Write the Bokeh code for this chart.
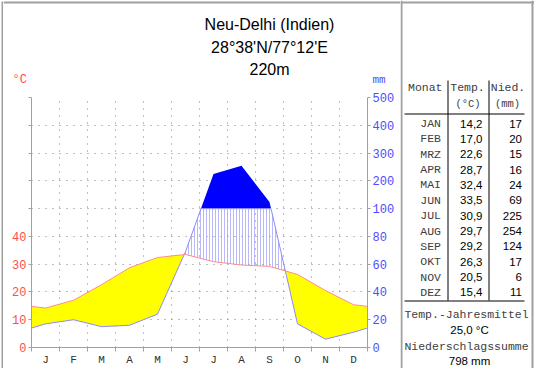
import numpy as np
from bokeh.plotting import figure
from bokeh.models import Range1d, LinearAxis, FixedTicker, Grid
from bokeh.layouts import row, column
from bokeh.embed import file_html
from bokeh.resources import INLINE
from bokeh.core.properties import value

# ---------------- data ----------------
station = "Neu-Delhi (Indien)"
coords = "28°38'N/77°12'E"
elevation = "220m"
month_letters = ["J", "F", "M", "A", "M", "J", "J", "A", "S", "O", "N", "D"]
month_abbr = ["JAN", "FEB", "MRZ", "APR", "MAI", "JUN", "JUL", "AUG", "SEP", "OKT", "NOV", "DEZ"]
temp = [14.2, 17.0, 22.6, 28.7, 32.4, 33.5, 30.9, 29.7, 29.2, 26.3, 20.5, 15.4]
precip = [17, 20, 15, 16, 24, 69, 225, 254, 124, 17, 6, 11]
temp_tick_labels = ["0", "10", "20", "30", "40"]
precip_tick_labels = ["0", "20", "40", "60", "80", "100", "200", "300", "400", "500"]

MONO_S = "Liberation Mono"
SANS_S = "Liberation Sans"
MONO = value(MONO_S)
SANS = value(SANS_S)
RED = "#ff4d4d"
BLUE = "#4d4dff"
GREY = "#a0a0a0"
TXT_GREY = "#404040"

W, H = 534, 368
STRIP_W = 3           # left border strip
LEFT_W = 400          # chart column right edge (page px)
PANEL_W = LEFT_W - STRIP_W
TITLE_H = 90          # height of the title strip
FRAME_L, FRAME_R = 31, 367   # page px
FRAME_T, FRAME_B = 97, 349


def p_to_u(v):
    # 0-100 mm linear, above 100 mm compressed by factor 5
    return v if v <= 100 else 100 + (v - 100) / 5.0


def t_to_u(t):
    return 2.0 * t


# month-centre positions, wrapped at both edges
xs = [0.0] + [i + 0.5 for i in range(12)] + [12.0]
edge_t = t_to_u((temp[-1] + temp[0]) / 2)
edge_p = p_to_u((precip[-1] + precip[0]) / 2)
Tu = [edge_t] + [t_to_u(t) for t in temp] + [edge_t]
Pu = [edge_p] + [p_to_u(v) for v in precip] + [edge_p]


def add_crossings(x, ys, f):
    nx = [x[0]]
    nys = [[y[0]] for y in ys]
    for i in range(len(x) - 1):
        d0 = f([y[i] for y in ys])
        d1 = f([y[i + 1] for y in ys])
        if d0 * d1 < 0:
            t = d0 / (d0 - d1)
            nx.append(x[i] + t * (x[i + 1] - x[i]))
            for k, y in enumerate(ys):
                nys[k].append(y[i] + t * (y[i + 1] - y[i]))
        nx.append(x[i + 1])
        for k, y in enumerate(ys):
            nys[k].append(y[i + 1])
    return nx, nys


x1, (T1, P1) = add_crossings(xs, [Tu, Pu], lambda v: v[1] - v[0])
x2, (T2, P2) = add_crossings(x1, [T1, P1], lambda v: v[1] - 100)
x2 = np.array(x2); T2 = np.array(T2); P2 = np.array(P2)


def blank_fig(w, h):
    f = figure(width=w, height=h, x_range=Range1d(0, w), y_range=Range1d(h, 0),
               output_backend="svg", toolbar_location=None, x_axis_location=None,
               y_axis_location=None, min_border=0, frame_align=False)
    f.grid.grid_line_color = None
    f.outline_line_color = None
    return f


# ---------------- left border strip ----------------
ls = blank_fig(STRIP_W, H)
ls.segment(x0=[2], y0=[1], x1=[2], y1=[H], line_color=GREY, line_width=2)

# ---------------- title strip ----------------
tf = blank_fig(PANEL_W, TITLE_H)
tf.segment(x0=[0], y0=[2], x1=[PANEL_W], y1=[2], line_color=GREY, line_width=2)
tf.text(x=[269 - STRIP_W] * 3, y=[24, 47, 69], text=[station, coords, elevation], text_font=SANS,
        text_font_size="16px", text_color="#000000", text_align="center", text_baseline="alphabetic")
tf.text(x=[12 - STRIP_W], y=[79], text=["°C"], text_font=MONO, text_font_size="12px", text_color=RED,
        text_align="left", text_baseline="middle")
tf.text(x=[FRAME_R + 5 - STRIP_W], y=[79], text=["mm"], text_font=MONO, text_font_size="11px",
        text_color=BLUE, text_align="left", text_baseline="middle")

# ---------------- chart figure ----------------
ch_h = H - TITLE_H
p = figure(width=PANEL_W, height=ch_h, x_range=Range1d(0, 12), y_range=Range1d(0, 180),
           output_backend="svg", toolbar_location=None,
           x_axis_location=None, y_axis_location=None,
           min_border_left=FRAME_L - STRIP_W, min_border_right=LEFT_W - FRAME_R,
           min_border_top=FRAME_T - TITLE_H, min_border_bottom=H - FRAME_B, frame_align=False)
p.outline_line_color = None
p.xgrid.grid_line_color = None
p.ygrid.grid_line_color = None

yt = [i * 20 for i in range(10)]
p.add_layout(Grid(dimension=0, ticker=FixedTicker(ticks=list(range(1, 12))),
                  grid_line_color="#808080", grid_line_dash="1 6"))
p.add_layout(Grid(dimension=1, ticker=FixedTicker(ticks=yt[1:]),
                  grid_line_color="#808080", grid_line_dash="1 6"))

# arid (yellow)
p.varea(x=x2, y1=P2, y2=np.maximum(T2, P2), fill_color="#ffff00", fill_alpha=1)
# humid (hatched)
p.varea(x=x2, y1=T2, y2=np.maximum(T2, np.minimum(P2, 100)), fill_alpha=0,
        hatch_pattern="vertical_line", hatch_color="#a0a0ff", hatch_alpha=0.75,
        hatch_scale=3, hatch_weight=1)
# perhumid (solid blue)
p.varea(x=x2, y1=np.full_like(P2, 100.0), y2=np.maximum(P2, 100), fill_color="#0000ff", fill_alpha=1)
p.line(x2, np.minimum(P2, 100), line_color="#8c8cff", line_width=1)
p.line(x2, T2, line_color="#ff8c8c", line_width=1)


def style_axis(ax, color, size="12px"):
    ax.axis_line_color = GREY
    ax.major_tick_line_color = GREY
    ax.minor_tick_line_color = GREY
    ax.major_label_text_color = color
    ax.major_label_text_font = MONO_S
    ax.major_label_text_font_size = size


left = LinearAxis(ticker=FixedTicker(ticks=yt),
                  major_label_overrides={yt[i]: (temp_tick_labels[i] if i < len(temp_tick_labels) else "")
                                         for i in range(len(yt))})
style_axis(left, RED)
left.major_tick_out = 3
left.major_tick_in = 0
left.minor_tick_out = 0
left.major_label_standoff = 2
p.add_layout(left, "left")

right = LinearAxis(ticker=FixedTicker(ticks=yt),
                   major_label_overrides={yt[i]: precip_tick_labels[i] for i in range(len(yt))})
style_axis(right, BLUE)
right.major_tick_out = 3
right.major_tick_in = 0
right.minor_tick_out = 0
right.major_label_standoff = 2
p.add_layout(right, "right")

mcent = [i + 0.5 for i in range(12)]
bottom = LinearAxis(ticker=FixedTicker(ticks=mcent, minor_ticks=list(range(13))),
                    major_label_overrides={mcent[i]: month_letters[i] for i in range(12)})
style_axis(bottom, "#333333", "11px")
bottom.major_tick_out = 0
bottom.major_tick_in = 0
bottom.minor_tick_out = 4
bottom.minor_tick_in = 0
bottom.major_label_standoff = 2
p.add_layout(bottom, "below")

# ---------------- table figure ----------------
TW = W - LEFT_W
t = blank_fig(TW, H)
# divider, top and right border
t.segment(x0=[1, 0, TW - 2], y0=[0, 2, 0], x1=[1, TW, TW - 2], y1=[H, 2, H],
          line_color=GREY, line_width=2)

t.text(x=[7.5], y=[87], text=["Monat"], text_font=MONO, text_font_size="11.5px",
       text_color=TXT_GREY, text_align="left", text_baseline="middle")
t.text(x=[67, 107.5], y=[87, 87], text=["Temp.", "Nied."], text_font=MONO,
       text_font_size="11.5px", text_color=TXT_GREY, text_align="center", text_baseline="middle")
t.text(x=[67.5, 107], y=[103, 103], text=["(°C)", "(mm)"], text_font=MONO,
       text_font_size="10.5px", text_color=TXT_GREY, text_align="center", text_baseline="middle")

t.segment(x0=[47.5, 88.5], y0=[80, 80], x1=[47.5, 88.5], y1=[300, 300],
          line_color="#000000", line_width=1)
t.segment(x0=[4, 4], y0=[113.5, 300.5], x1=[124, 124], y1=[113.5, 300.5],
          line_color="#000000", line_width=1)

row_y = [123 + i * 15.36 for i in range(12)]
t.text(x=[40.5] * 12, y=row_y, text=month_abbr, text_font=MONO, text_font_size="11.5px",
       text_color=TXT_GREY, text_align="right", text_baseline="middle")
t.text(x=[82] * 12, y=row_y, text=[f"{v:.1f}".replace(".", ",") for v in temp],
       text_font=SANS, text_font_size="11.5px", text_color="#000000",
       text_align="right", text_baseline="middle")
t.text(x=[121.5] * 12, y=row_y, text=[str(v) for v in precip],
       text_font=SANS, text_font_size="11.5px", text_color="#000000",
       text_align="right", text_baseline="middle")

mean_t = sum(temp) / len(temp)
sum_p = sum(precip)
t.text(x=[66, 66], y=[314, 346], text=["Temp.-Jahresmittel", "Niederschlagssumme"],
       text_font=MONO, text_font_size="11.5px", text_color=TXT_GREY,
       text_align="center", text_baseline="middle")
t.text(x=[69, 69], y=[329, 360],
       text=[f"{mean_t:.1f} °C".replace(".", ","), f"{sum_p} mm"],
       text_font=SANS, text_font_size="11.5px", text_color="#000000",
       text_align="center", text_baseline="middle")

layout = row(ls, column(tf, p, spacing=0), t, spacing=0)
open("out.html", "w").write(file_html(layout, INLINE))
